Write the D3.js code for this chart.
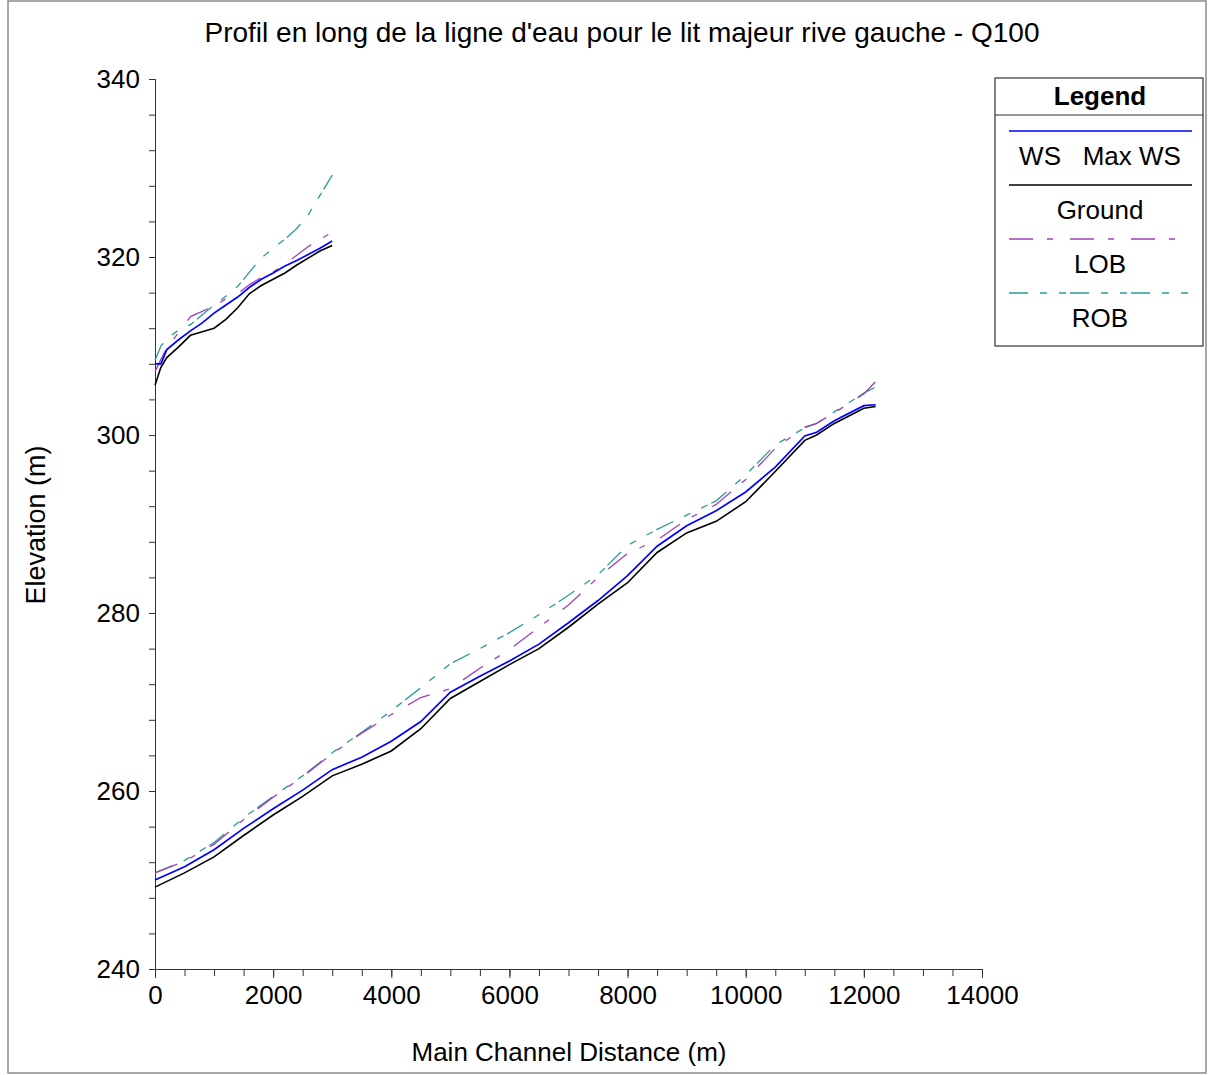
<!DOCTYPE html>
<html>
<head>
<meta charset="utf-8">
<script src="https://cdn.jsdelivr.net/npm/d3@7"></script>
<style>
  body { margin: 0; background: #fff; }
  text { font-family: "Liberation Sans", Arial, sans-serif; fill: #000; }
</style>
</head>
<body>
<div id="chart"></div>
<script>
// upper reach (short reach, 0 - 3000 m)
var upperStations = [0, 100, 200, 400, 600, 800, 1000, 1200, 1400, 1600, 1800, 2000, 2200, 2400, 2600, 2800, 3000];
var upperGround = [305.6, 307.6, 308.7, 309.9, 311.2, 311.6, 312.0, 313.0, 314.3, 315.9, 316.8, 317.5, 318.2, 319.1, 319.9, 320.7, 321.3];
var upperWS = [308.0, 308.0, 309.6, 310.7, 311.7, 312.6, 313.7, 314.6, 315.5, 316.6, 317.5, 318.2, 319.0, 319.6, 320.3, 321.0, 321.8];
var upperLOB = [307.1, 308.5, 309.8, 311.5, 313.3, 313.9, 314.5, 315.3, 315.9, 316.9, 317.7, 318.3, 319.2, 320.2, 321.2, 322.0, 322.8];
var upperROB = [308.4, 310.0, 310.8, 311.8, 312.4, 313.5, 314.6, 315.6, 316.7, 318.3, 319.9, 321.0, 322.0, 323.2, 324.8, 327.0, 329.2];

// lower reach (long reach, 0 - 12200 m)
var lowerStations = [0, 500, 1000, 1500, 2000, 2500, 3000, 3500, 4000, 4500, 5000, 5500, 6000, 6500, 7000, 7500, 8000, 8500, 9000, 9500, 10000, 10500, 11000, 11200, 11500, 12000, 12200];
var lowerGround = [249.2, 250.8, 252.6, 255.0, 257.3, 259.4, 261.7, 263.0, 264.5, 267.0, 270.4, 272.3, 274.2, 276.0, 278.4, 281.0, 283.4, 286.8, 289.0, 290.3, 292.5, 295.9, 299.4, 300.0, 301.3, 303.0, 303.2];
var lowerWS = [250.0, 251.5, 253.4, 255.8, 258.0, 260.1, 262.4, 263.8, 265.6, 267.8, 271.1, 272.9, 274.6, 276.5, 278.9, 281.4, 284.2, 287.5, 289.8, 291.5, 293.6, 296.4, 299.9, 300.3, 301.6, 303.3, 303.4];
var lowerLOB = [250.8, 252.1, 254.0, 256.8, 259.3, 261.6, 264.2, 266.5, 268.6, 270.5, 271.5, 273.8, 275.9, 278.4, 280.9, 284.0, 286.7, 288.2, 290.5, 292.2, 295.0, 298.5, 300.9, 301.3, 302.5, 304.6, 306.0];
var lowerROB = [250.8, 252.2, 254.2, 257.0, 259.4, 261.7, 264.3, 266.6, 269.0, 271.6, 274.3, 276.0, 277.8, 279.8, 282.0, 284.3, 287.6, 289.4, 291.0, 292.6, 295.5, 298.9, 300.8, 301.3, 302.6, 304.7, 305.4];

var xTicks = [0, 2000, 4000, 6000, 8000, 10000, 12000, 14000];
var yTicks = [240, 260, 280, 300, 320, 340];

var seriesInfo = [
    { name: "WS   Max WS", color: "#0000ff", dash: null, width: 1.7, upper: upperWS, lower: lowerWS },
    { name: "Ground", color: "#000000", dash: null, width: 1.6, upper: upperGround, lower: lowerGround },
    { name: "LOB", color: "#a040b8", dash: "24,14,6,17", width: 1.3, upper: upperLOB, lower: lowerLOB },
    { name: "ROB", color: "#2a9a9a", dash: "19,12,7,12,7,4", width: 1.3, upper: upperROB, lower: lowerROB }
];

var width = 1214, height = 1075;
var svg = d3.select("#chart").append("svg")
    .attr("width", width)
    .attr("height", height);

// outer frame
svg.append("rect")
    .attr("x", 8).attr("y", 1)
    .attr("width", 1198).attr("height", 1072)
    .attr("fill", "none")
    .attr("stroke", "#8a8a8a")
    .attr("stroke-width", 1.5);

var x = d3.scaleLinear().domain([0, 14000]).range([155, 982]);
var y = d3.scaleLinear().domain([240, 340]).range([969, 79]);

// title
svg.append("text")
    .attr("x", 622).attr("y", 42)
    .attr("text-anchor", "middle")
    .style("font-size", "28px")
    .text("Profil en long de la ligne d'eau pour le lit majeur rive gauche - Q100");

// x axis: minor ticks then major ticks + labels
var xAxisG = svg.append("g").attr("transform", "translate(0," + y(240) + ")");
xAxisG.call(d3.axisBottom(x).tickValues(d3.range(0, 14001, 500)).tickSize(7).tickFormat(""));
xAxisG.append("g").call(d3.axisBottom(x).tickValues(xTicks).tickSize(9).tickPadding(8).tickFormat(d3.format("d")));
xAxisG.selectAll("text").style("font-size", "26px").attr("fill", "#000");
xAxisG.selectAll("path.domain").attr("stroke", "#333");
xAxisG.selectAll("line").attr("stroke", "#333");

// y axis
var yAxisG = svg.append("g").attr("transform", "translate(" + x(0) + ",0)");
yAxisG.call(d3.axisLeft(y).tickValues(d3.range(240, 341, 4)).tickSize(6).tickFormat(""));
yAxisG.append("g").call(d3.axisLeft(y).tickValues(yTicks).tickSize(6).tickPadding(9).tickFormat(d3.format("d")));
yAxisG.selectAll("text").style("font-size", "26px").attr("fill", "#000");
yAxisG.selectAll("path.domain").attr("stroke", "#333");
yAxisG.selectAll("line").attr("stroke", "#333");

// axis titles
svg.append("text")
    .attr("x", 569).attr("y", 1061)
    .attr("text-anchor", "middle")
    .style("font-size", "26px")
    .text("Main Channel Distance (m)");

svg.append("text")
    .attr("transform", "translate(45,525) rotate(-90)")
    .attr("text-anchor", "middle")
    .style("font-size", "27px")
    .text("Elevation (m)");

// profile lines
var line = d3.line()
    .x(function (d) { return x(d[0]); })
    .y(function (d) { return y(d[1]); });

var drawOrder = [3, 2, 1, 0];
drawOrder.forEach(function (k) {
    var s = seriesInfo[k];
    [[upperStations, s.upper], [lowerStations, s.lower]].forEach(function (reach) {
        var pts = reach[0].map(function (st, i) { return [st, reach[1][i]]; });
        svg.append("path")
            .datum(pts)
            .attr("d", line)
            .attr("fill", "none")
            .attr("stroke", s.color)
            .attr("stroke-width", s.width)
            .attr("stroke-dasharray", s.dash);
    });
});

// legend
var lg = svg.append("g").attr("transform", "translate(995,78)");
lg.append("rect")
    .attr("width", 208).attr("height", 268)
    .attr("fill", "#fff")
    .attr("stroke", "#333")
    .attr("stroke-width", 1.2);
lg.append("line")
    .attr("x1", 0).attr("x2", 208)
    .attr("y1", 37).attr("y2", 37)
    .attr("stroke", "#333").attr("stroke-width", 1.2);
lg.append("text")
    .attr("x", 105).attr("y", 27)
    .attr("text-anchor", "middle")
    .style("font-size", "26px")
    .style("font-weight", "bold")
    .text("Legend");

seriesInfo.forEach(function (s, i) {
    var ly = 53 + i * 54;
    lg.append("line")
        .attr("x1", 14).attr("x2", 197)
        .attr("y1", ly).attr("y2", ly)
        .attr("stroke", s.color)
        .attr("stroke-width", s.width)
        .attr("stroke-dasharray", s.dash);
    lg.append("text")
        .attr("x", 105).attr("y", ly + 34)
        .attr("text-anchor", "middle")
        .attr("xml:space", "preserve")
        .style("white-space", "pre")
        .style("font-size", "26px")
        .text(s.name);
});
</script>
</body>
</html>
